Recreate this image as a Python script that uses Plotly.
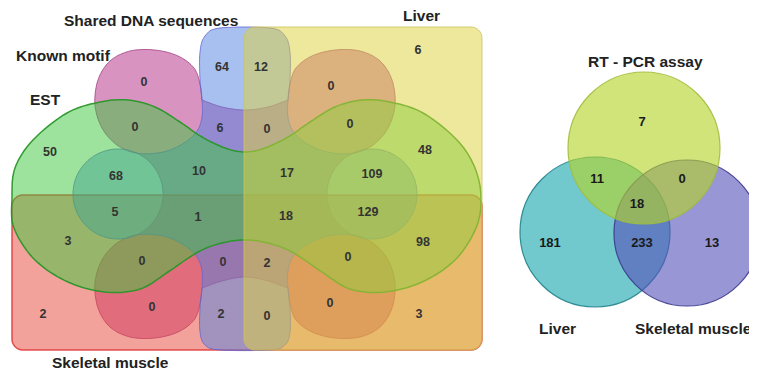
import numpy as np
import plotly.graph_objects as go

# ---------------- data ----------------
left_set_names = ["EST", "Known motif", "Shared DNA sequences", "Liver", "Skeletal muscle"]
# region keys: E=EST, K=Known motif, S=Shared DNA sequences, L=Liver, M=Skeletal muscle
left_regions = ["L", "S", "LS", "K", "LK", "EK", "SK", "LSK", "ELK",
                "E", "EL", "ES", "ESK", "ELSK", "ELS",
                "EMS", "EMSK", "ELMSK", "ELMS",
                "EM", "ELM",
                "EMK", "MSK", "LMSK", "ELMK",
                "M", "MK", "MS", "LMS", "LMK", "LM"]
left_counts = [6, 64, 12, 0, 0, 0, 6, 0, 0,
               50, 48, 68, 10, 17, 109,
               5, 1, 18, 129,
               3, 98,
               0, 0, 2, 0,
               2, 0, 2, 0, 0, 3]

right_set_names = ["RT - PCR assay", "Liver", "Skeletal muscle"]
right_regions = ["R", "RL", "RM", "RLM", "L", "LM", "M"]
right_counts = [7, 11, 0, 18, 181, 233, 13]

# ---------------- layout (positions, page pixels) ----------------
left_label_pos = {
    "L": (418, 51), "S": (222, 68), "LS": (261, 68), "K": (144, 83), "LK": (331, 87),
    "EK": (135, 128), "SK": (220, 129), "LSK": (267, 130), "ELK": (350, 125),
    "E": (50, 153), "EL": (425, 151), "ES": (116, 177), "ESK": (199, 172),
    "ELSK": (287, 174), "ELS": (372, 175),
    "EMS": (115, 213), "EMSK": (198, 218), "ELMSK": (286, 217), "ELMS": (368, 213),
    "EM": (68, 242), "ELM": (423, 243),
    "EMK": (142, 262), "MSK": (223, 263), "LMSK": (267, 264), "ELMK": (348, 258),
    "M": (43, 315), "MK": (152, 308), "MS": (221, 315), "LMS": (267, 317),
    "LMK": (330, 304), "LM": (419, 315),
}
right_label_pos = {"R": (642, 123), "RL": (597, 180), "RM": (682, 180), "RLM": (637, 205),
                   "L": (550, 244), "LM": (642, 244), "M": (712, 244)}


def cr_seg(p0, p1, p2, p3, n):
    t = np.linspace(0, 1, n, endpoint=False)[:, None]
    return 0.5 * (2 * p1 + (-p0 + p2) * t + (2 * p0 - 5 * p1 + 4 * p2 - p3) * t ** 2
                  + (-p0 + 3 * p1 - 3 * p2 + p3) * t ** 3)


def cr_closed(pts, n=16):
    P = np.array(pts, float)
    N = len(P)
    out = [cr_seg(P[(i - 1) % N], P[i], P[(i + 1) % N], P[(i + 2) % N], n) for i in range(N)]
    return np.vstack(out)


def cr_open(pts, n=16):
    P = np.array(pts, float)
    E = np.vstack([P[0], P, P[-1]])
    out = [cr_seg(E[i], E[i + 1], E[i + 2], E[i + 3], n) for i in range(len(P) - 1)]
    return np.vstack(out + [P[-1:]])


def arc(c, r, a0, a1, n=80):
    a = np.radians(np.linspace(a0, a1, n))
    return np.column_stack([c[0] + r * np.sin(a), c[1] - r * np.cos(a)])


def rrect(x0, y0, x1, y1, r):
    pts = []
    for (cx, cy, a0) in [(x1 - r, y0 + r, 0), (x1 - r, y1 - r, 90), (x0 + r, y1 - r, 180), (x0 + r, y0 + r, 270)]:
        pts.append(arc((cx, cy), r, a0, a0 + 90, 12))
    return np.vstack(pts)


def path(a):
    return "M " + " L ".join(f"{x:.1f},{y:.1f}" for x, y in a) + " Z"


XM, YM = 490.0, 388.0  # mirror axes (x=245, y=194)


def mx(a):
    a = np.array(a, float).copy(); a[:, 0] = XM - a[:, 0]; return a


def my(a):
    a = np.array(a, float).copy(); a[:, 1] = YM - a[:, 1]; return a


# ---- geometry of the 5-set diagram ----
cL, cR, rc = (118.0, 194.0), (372.0, 194.0), 45.0
phi = 25.0
P1 = (cL[0] + rc * np.sin(np.radians(phi)), cL[1] - rc * np.cos(np.radians(phi)))
A1 = (202.0, 100.0)
A2 = (XM - A1[0], A1[1])
A3 = (XM - A1[0], YM - A1[1])
A4 = (A1[0], YM - A1[1])

n = 16
blob_pts = [A1, (202, 117), (197, 131), (184, 143), (163, 152), P1, (117, 145), (102, 128),
            (95, 105), (98, 80), (110, 61), (130, 51), (155, 50), (178, 56), (194, 68), (200, 84)]
dense = cr_closed(blob_pts, n)
inner_TL = dense[0:5 * n + 1]
outer_TL = np.vstack([dense[5 * n:], dense[0:1]])

lobeT_outer = cr_open([A1, (200, 80), (200, 52), (205, 36), (220, 28), (270, 28), (285, 36), (290, 52), (290, 80), A2], 10)
lobeT_inner = cr_open([A1, (222, 107), (245, 110), (268, 107), A2], 12)
lobeB_outer = cr_open([A3, (290, 308), (290, 332), (285, 345), (270, 350), (220, 350), (205, 345), (200, 332), (200, 308), A4], 10)
lobeB_inner = cr_open([A3, (268, 281), (245, 277), (222, 281), A4], 12)

S_path = np.vstack([lobeT_outer, mx(inner_TL), arc(cR, rc, 360 - phi, 540 + phi), my(mx(inner_TL))[::-1],
                    lobeB_outer, my(inner_TL), arc(cL, rc, 180 - phi, 360 + phi), inner_TL[::-1]])
K_path = np.vstack([outer_TL, lobeT_inner, mx(outer_TL)[::-1], arc(cR, rc, 360 - phi, 180 + phi),
                    my(mx(outer_TL)), lobeB_inner, my(outer_TL)[::-1], arc(cL, rc, 180 - phi, phi)])

E_pts = [(12, 198), (15, 168), (33, 140), (67, 113), (100, 102), (128, 100), (155, 107), (180, 122),
         (202, 137), (225, 148), (245, 152), (265, 148), (288, 137), (310, 122), (335, 107), (362, 100),
         (390, 102), (423, 113), (457, 140), (475, 168), (481, 198), (476, 228), (455, 260), (422, 282),
         (385, 292), (350, 289), (322, 272), (292, 252), (268, 243), (245, 240), (222, 243), (198, 252),
         (168, 272), (140, 289), (105, 292), (68, 282), (35, 260), (14, 228)]
E_path = cr_closed(E_pts, 10)

liver_rect = rrect(244, 27, 482, 350, 11)
muscle_rect = rrect(12, 195, 482, 350, 11)

fig = go.Figure()
shapes = []


def add(a, fill, line, w):
    shapes.append(dict(type="path", path=path(a), xref="x", yref="y", fillcolor=fill,
                       line=dict(color=line, width=w), layer="below"))


# draw order (bottom -> top): Known motif, Skeletal muscle, Shared DNA, EST, Liver
add(K_path, "rgba(180,40,130,0.5)", "rgba(160,60,130,0.8)", 1)
add(muscle_rect, "rgba(232,70,55,0.5)", "rgba(225,60,60,0.9)", 1.5)
add(S_path, "rgba(80,130,225,0.5)", "rgba(100,100,210,0.8)", 1)
add(E_path, "rgba(60,200,60,0.5)", "rgba(40,150,40,0.95)", 1.5)
add(liver_rect, "rgba(222,210,60,0.5)", "rgba(205,195,90,0.8)", 1)

# right Venn circles
circles = [((595, 232), 75, "rgba(20,165,172,0.6)", "rgba(30,130,140,0.9)"),
           ((687, 233), 73, "rgba(85,80,185,0.6)", "rgba(60,55,140,0.9)"),
           ((644, 148), 76, "rgba(180,212,40,0.62)", "rgba(160,190,60,0.9)")]
for (cx, cy), r, f, l in circles:
    shapes.append(dict(type="circle", xref="x", yref="y", x0=cx - r, x1=cx + r, y0=cy - r, y1=cy + r,
                       fillcolor=f, line=dict(color=l, width=1.2), layer="below"))

fig.add_trace(go.Scatter(
    x=[left_label_pos[k][0] for k in left_regions], y=[left_label_pos[k][1] for k in left_regions],
    text=[str(v) for v in left_counts], mode="text",
    textfont=dict(family="Liberation Sans", size=12.5, color="#333333", weight="bold"),
    hoverinfo="skip"))
fig.add_trace(go.Scatter(
    x=[right_label_pos[k][0] for k in right_regions], y=[right_label_pos[k][1] for k in right_regions],
    text=[str(v) for v in right_counts], mode="text",
    textfont=dict(family="Liberation Sans", size=13, color="#1a1a1a", weight="bold"),
    hoverinfo="skip"))

title_pos_left = [(45, 99), (63, 55), (151, 20), (421, 15), (110, 362)]
title_pos_right = [(645, 61), (557, 328), (693, 328)]
ann = []
for name, (x, y) in zip(left_set_names, title_pos_left):
    ann.append(dict(x=x, y=y, text=f"<b>{name}</b>", showarrow=False, xref="x", yref="y",
                    font=dict(family="Liberation Sans", size=15.5, color="#222222")))
for name, (x, y) in zip(right_set_names, title_pos_right):
    ann.append(dict(x=x, y=y, text=f"<b>{name}</b>", showarrow=False, xref="x", yref="y",
                    font=dict(family="Liberation Sans", size=15.5, color="#222222")))

# the page body has an 8px margin: the figure starts at page pixel 8,
# so axis ranges start at 8 to keep data units == page pixels
fig.update_layout(width=749, height=363, margin=dict(l=0, r=0, t=0, b=0),
                  paper_bgcolor="white", plot_bgcolor="white", showlegend=False,
                  xaxis=dict(range=[8, 757], visible=False),
                  yaxis=dict(range=[371, 8], visible=False),
                  shapes=shapes, annotations=ann)
fig.write_html("out.html")
